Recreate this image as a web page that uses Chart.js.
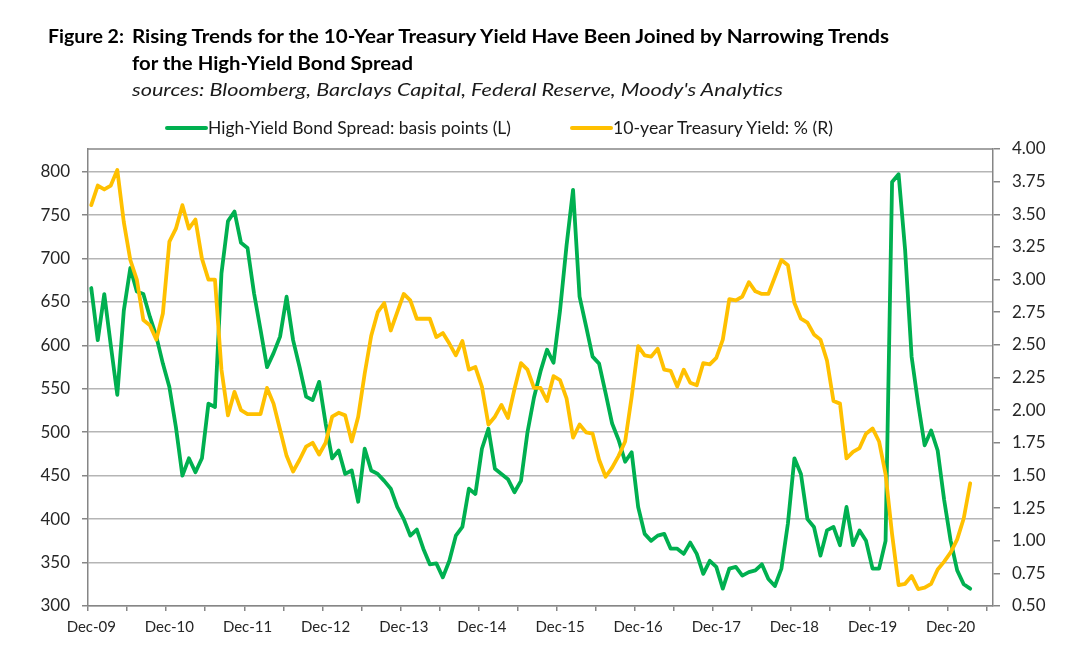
<!DOCTYPE html>
<html>
<head>
<meta charset="utf-8">
<script src="https://cdn.jsdelivr.net/npm/chart.js@4.4.1/dist/chart.umd.min.js"></script>
<style>
    html, body { margin: 0; padding: 0; background: #fff; }
    #wrap { position: relative; width: 1080px; height: 653px; overflow: hidden; }
    #chart { position: absolute; left: 0; top: 0; }
    .txt { position: absolute; white-space: nowrap; font-family: Lato, sans-serif; color: #000; line-height: 24px; transform-origin: 0 50%; }
    .bold { font-weight: bold; font-size: 19px; }
    .ital { font-style: italic; font-size: 18px; color: #1a1a1a; }
    .leg { font-size: 17px; color: #1a1a1a; }
    .swatch { position: absolute; height: 4px; border-radius: 2px; }
</style>
</head>
<body>
<div id="wrap">
    <canvas id="chart" width="1080" height="653"></canvas>
    <div class="txt bold" id="fig" style="left:48px; top:24px">Figure 2:</div>
    <div class="txt bold" id="t1" style="left:132px; top:24px">Rising Trends for the 10-Year Treasury Yield Have Been Joined by Narrowing Trends</div>
    <div class="txt bold" id="t2" style="left:132px; top:51px">for the High-Yield Bond Spread</div>
    <div class="txt ital" id="src" style="left:132px; top:77px">sources: Bloomberg, Barclays Capital, Federal Reserve, Moody's Analytics</div>
    <div class="swatch" style="left:165px; top:126px; width:43px; background:#00b050"></div>
    <div class="txt leg" id="leg1" style="left:208px; top:116px">High-Yield Bond Spread: basis points (L)</div>
    <div class="swatch" style="left:570px; top:126px; width:43px; background:#ffc000"></div>
    <div class="txt leg" id="leg2" style="left:613px; top:116px">10-year Treasury Yield: % (R)</div>
</div>
<script>
// Monthly data, Dec-09 .. Mar-21
const spreadBp = [
    666, 606, 659, 600, 543, 640, 689, 662, 659, 633,
    610, 579, 552, 506, 450, 470, 454, 470, 533, 529,
    683, 743, 754, 718, 712, 660, 618, 575, 591, 610,
    656, 606, 575, 541, 537, 558, 510, 470, 479, 452,
    456, 420, 481, 456, 452, 444, 435, 414, 400, 381,
    388, 366, 348, 349, 333, 352, 381, 391, 435, 429,
    481, 504, 458, 452, 446, 431, 444, 500, 540, 570,
    595, 580, 640, 715, 779, 656, 622, 587, 579, 545,
    510, 491, 466, 477, 414, 383, 375, 381, 383, 366,
    366, 360, 373, 360, 337, 352, 345, 320, 343, 345,
    335, 339, 341, 348, 331, 323, 343, 395, 470, 452,
    400, 391, 358, 387, 391, 370, 414, 370, 387, 375,
    343, 343, 375, 788, 797, 710, 587, 533, 485, 502,
    479, 422, 375, 341, 325, 320
];

const yield10 = [
    3.57, 3.72, 3.69, 3.72, 3.84, 3.44, 3.15, 3.00, 2.69, 2.65,
    2.54, 2.74, 3.29, 3.39, 3.57, 3.39, 3.46, 3.16, 3.00, 3.00,
    2.31, 1.96, 2.14, 2.00, 1.97, 1.97, 1.97, 2.17, 2.05, 1.85,
    1.65, 1.53, 1.62, 1.72, 1.75, 1.66, 1.75, 1.95, 1.98, 1.96,
    1.76, 1.95, 2.28, 2.57, 2.75, 2.82, 2.61, 2.75, 2.89, 2.84,
    2.70, 2.70, 2.70, 2.56, 2.59, 2.51, 2.42, 2.53, 2.31, 2.33,
    2.18, 1.89, 1.95, 2.04, 1.94, 2.16, 2.36, 2.31, 2.17, 2.17,
    2.07, 2.26, 2.23, 2.09, 1.79, 1.89, 1.83, 1.82, 1.62, 1.49,
    1.56, 1.65, 1.76, 2.10, 2.49, 2.42, 2.41, 2.47, 2.31, 2.30,
    2.18, 2.31, 2.21, 2.19, 2.36, 2.35, 2.40, 2.54, 2.85, 2.84,
    2.87, 2.98, 2.91, 2.89, 2.89, 3.02, 3.15, 3.11, 2.82, 2.70,
    2.67, 2.58, 2.54, 2.38, 2.07, 2.05, 1.63, 1.68, 1.71, 1.82,
    1.86, 1.76, 1.51, 1.05, 0.66, 0.67, 0.73, 0.63, 0.64, 0.67,
    0.78, 0.84, 0.91, 1.01, 1.17, 1.44
];

const tickLabels = ["Dec-09", "Dec-10", "Dec-11", "Dec-12", "Dec-13", "Dec-14",
    "Dec-15", "Dec-16", "Dec-17", "Dec-18", "Dec-19", "Dec-20"];

// Axis runs Dec-09 .. Jun-21, one category per month
const monthNames = ["Jan", "Feb", "Mar", "Apr", "May", "Jun", "Jul", "Aug", "Sep", "Oct", "Nov", "Dec"];
const categories = [];
for (let i = 0; i < 139; i++) {
    const m = (11 + i) % 12;
    const y = 9 + Math.floor((11 + i) / 12);
    categories.push(monthNames[m] + "-" + String(y).padStart(2, "0"));
}

// Stretch the html text to the widths seen in the reference
function fitWidth(id, target) {
    const el = document.getElementById(id);
    const w = el.getBoundingClientRect().width;
    el.style.transform = "scaleX(" + (target / w) + ")";
}
fitWidth("fig", 76);
fitWidth("t1", 757);
fitWidth("t2", 281);
fitWidth("src", 651);
fitWidth("leg1", 303);
fitWidth("leg2", 220);

const axisGrey = "#868686";

// plot frame (top edge of the box)
const framePlugin = {
    id: "frame",
    afterDraw(chart) {
        const { ctx, chartArea } = chart;
        ctx.save();
        ctx.strokeStyle = axisGrey;
        ctx.lineWidth = 1.5;
        ctx.beginPath();
        ctx.moveTo(chartArea.left, chartArea.top);
        ctx.lineTo(chartArea.right, chartArea.top);
        ctx.stroke();
        ctx.restore();
    }
};

Chart.defaults.font.family = "Lato, sans-serif";
Chart.defaults.color = "#262626";

new Chart(document.getElementById("chart"), {
    type: "line",
    data: {
        labels: categories,
        datasets: [{
            label: "10-year Treasury Yield: % (R)",
            data: yield10,
            yAxisID: "y1",
            borderColor: "#ffc000",
            borderWidth: 3.8,
            pointRadius: 0,
            tension: 0,
            borderJoinStyle: "round",
            borderCapStyle: "round",
            order: 0
        }, {
            label: "High-Yield Bond Spread: basis points (L)",
            data: spreadBp,
            yAxisID: "y",
            borderColor: "#00b050",
            borderWidth: 3.8,
            pointRadius: 0,
            tension: 0,
            borderJoinStyle: "round",
            borderCapStyle: "round",
            order: 1
        }]
    },
    options: {
        responsive: false,
        animation: false,
        layout: { padding: { top: 149, left: 0, right: 0, bottom: 0 } },
        plugins: {
            legend: { display: false },
            tooltip: { enabled: false }
        },
        scales: {
            x: {
                offset: true,
                afterFit: s => { s.height = 47; s.paddingLeft = 0; s.paddingRight = 0; },
                border: { color: axisGrey, width: 1.5 },
                grid: {
                    offset: true,
                    drawOnChartArea: false,
                    drawTicks: true,
                    tickLength: 5,
                    lineWidth: 1.5,
                    color: ctx => (ctx.index % 6 === 0 ? axisGrey : "rgba(0,0,0,0)")
                },
                ticks: {
                    autoSkip: false,
                    maxRotation: 0,
                    padding: 7,
                    font: { size: 15 },
                    callback: (val, i) => (i % 12 === 0 ? tickLabels[i / 12] : "")
                }
            },
            y: {
                position: "left",
                min: 300,
                max: 826,
                afterFit: s => { s.width = 88; s.paddingTop = 0; s.paddingBottom = 0; },
                border: { color: axisGrey, width: 1.5 },
                grid: {
                    color: "#b5b5b5",
                    lineWidth: 1.5,
                    tickLength: 6,
                    tickColor: axisGrey
                },
                ticks: {
                    stepSize: 50,
                    includeBounds: false,
                    padding: 12,
                    font: { size: 17 }
                }
            },
            y1: {
                position: "right",
                min: 0.5,
                max: 4,
                afterFit: s => { s.width = 87; s.paddingTop = 0; s.paddingBottom = 0; },
                border: { color: axisGrey, width: 1.5 },
                grid: {
                    drawOnChartArea: false,
                    tickLength: 7,
                    lineWidth: 1.5,
                    color: axisGrey
                },
                ticks: {
                    stepSize: 0.25,
                    padding: 12,
                    font: { size: 17 },
                    callback: v => v.toFixed(2)
                }
            }
        }
    },
    plugins: [framePlugin]
});
</script>
</body>
</html>
